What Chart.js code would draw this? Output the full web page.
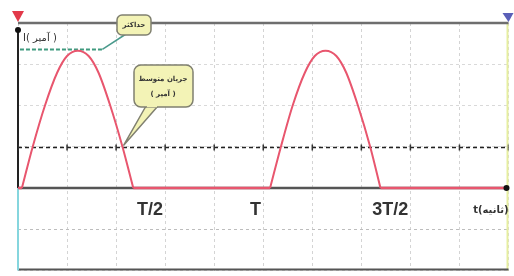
<!DOCTYPE html>
<html>
<head>
<meta charset="utf-8">
<script src="https://cdn.jsdelivr.net/npm/chart.js@4/dist/chart.umd.min.js"></script>
<style>
  html, body { margin: 0; padding: 0; background: #fff; overflow: hidden; }
  canvas { display: block; }
</style>
</head>
<body>
<canvas id="chart" width="514" height="276"></canvas>
<script>
// values in grid divisions (x: 10 divisions, y: -2..4)
const hump1X = [0.08, 0.30, 0.55, 0.80, 1.00, 1.22, 1.44, 1.64, 1.88, 2.13, 2.35];
const hump1Y = [0, 1.0, 2.0, 2.8, 3.2, 3.33, 3.2, 2.8, 2.0, 1.0, 0];
const hump2X = [5.14, 5.36, 5.60, 5.85, 6.05, 6.27, 6.49, 6.69, 6.93, 7.18, 7.39];
const hump2Y = [0, 1.0, 2.0, 2.8, 3.2, 3.33, 3.2, 2.8, 2.0, 1.0, 0];
const flatX = [0, 0.08, 1.2, 2.35, 5.14, 6.3, 7.39, 10];
const flatY = [0, 0, null, 0, 0, null, 0, 0];
const maxX = [0.04, 1.72];
const maxY = [3.36, 3.36];
const avgX = [0, 1, 2, 3, 4, 5, 6, 7, 8, 9, 10];
const avgY = [0.98, 0.98, 0.98, 0.98, 0.98, 0.98, 0.98, 0.98, 0.98, 0.98, 0.98];
const tickLabels = ['T/2', 'T', '3T/2'];
const tickPos = [2.69, 4.84, 7.59];
const yTitle = 'I( آمپر )';
const xTitle = 't(ثانیه)';
const maxNote = 'حداکثر';
const avgNote = ['جریان متوسط', '( آمپر )'];

function pts(xs, ys) {
  return xs.map((x, i) => ({ x: x, y: ys[i] }));
}

const RED = '#e8566e';

// axes frame, drawn under the curve
const framePlugin = {
  id: 'frame',
  beforeDatasetsDraw(chart) {
    const ctx = chart.ctx;
    const a = chart.chartArea;
    const y0 = chart.scales.y.getPixelForValue(0);
    ctx.save();
    ctx.lineCap = 'butt';
    // right yellow edge
    ctx.strokeStyle = '#e6eea0';
    ctx.lineWidth = 2;
    ctx.beginPath(); ctx.moveTo(a.right - 1, a.top); ctx.lineTo(a.right - 1, a.bottom); ctx.stroke();
    // top and bottom
    ctx.strokeStyle = '#6e6e6e';
    ctx.lineWidth = 2.5;
    ctx.beginPath(); ctx.moveTo(a.left, a.top); ctx.lineTo(a.right, a.top); ctx.stroke();
    ctx.strokeStyle = '#555';
    ctx.lineWidth = 2;
    ctx.beginPath(); ctx.moveTo(a.left, a.bottom - 1); ctx.lineTo(a.right, a.bottom - 1); ctx.stroke();
    // zero axis
    ctx.strokeStyle = '#555';
    ctx.lineWidth = 2.5;
    ctx.beginPath(); ctx.moveTo(a.left, y0); ctx.lineTo(a.right, y0); ctx.stroke();
    // left axis
    ctx.strokeStyle = '#222';
    ctx.lineWidth = 2;
    ctx.beginPath(); ctx.moveTo(a.left, a.top + 7); ctx.lineTo(a.left, y0); ctx.stroke();
    ctx.strokeStyle = '#86d6de';
    ctx.beginPath(); ctx.moveTo(a.left, y0); ctx.lineTo(a.left, a.bottom); ctx.stroke();
    ctx.restore();
  }
};

function roundBox(ctx, x, y, w, h, r) {
  ctx.beginPath();
  ctx.moveTo(x + r, y);
  ctx.arcTo(x + w, y, x + w, y + h, r);
  ctx.arcTo(x + w, y + h, x, y + h, r);
  ctx.arcTo(x, y + h, x, y, r);
  ctx.arcTo(x, y, x + w, y, r);
  ctx.closePath();
}

// labels, markers and callouts
const notesPlugin = {
  id: 'notes',
  afterDatasetsDraw(chart) {
    const ctx = chart.ctx;
    const a = chart.chartArea;
    const xs = chart.scales.x, ys = chart.scales.y;
    const y0 = ys.getPixelForValue(0);
    ctx.save();

    // cursor markers
    ctx.fillStyle = '#e23a4a';
    ctx.beginPath(); ctx.moveTo(a.left - 6, 11); ctx.lineTo(a.left + 6, 11); ctx.lineTo(a.left, 22); ctx.closePath(); ctx.fill();
    ctx.fillStyle = '#5a5fb8';
    ctx.beginPath(); ctx.moveTo(a.right - 6, 13); ctx.lineTo(a.right + 5, 13); ctx.lineTo(a.right, 22); ctx.closePath(); ctx.fill();

    // axis end dots
    ctx.fillStyle = '#111';
    ctx.beginPath(); ctx.arc(a.left, a.top + 7, 3, 0, Math.PI * 2); ctx.fill();
    ctx.beginPath(); ctx.arc(a.right - 2, y0, 3, 0, Math.PI * 2); ctx.fill();

    // tick labels
    ctx.fillStyle = '#333';
    ctx.font = 'bold 18px "Liberation Sans Narrow", "Liberation Sans", Arial, sans-serif';
    ctx.textAlign = 'center';
    ctx.textBaseline = 'middle';
    tickLabels.forEach((t, i) => ctx.fillText(t, xs.getPixelForValue(tickPos[i]), y0 + 22));

    // axis titles
    ctx.font = 'bold 10px "DejaVu Sans", sans-serif';
    ctx.textAlign = 'right';
    ctx.fillText(xTitle, a.right, y0 + 22);
    ctx.font = '10px "DejaVu Sans", sans-serif';
    ctx.textAlign = 'left';
    ctx.fillText(yTitle, a.left + 5, a.top + 15);

    // max callout
    const mx = xs.getPixelForValue(maxX[1]), my = ys.getPixelForValue(maxY[1]);
    ctx.strokeStyle = '#4a9a8c';
    ctx.lineWidth = 1.5;
    ctx.beginPath(); ctx.moveTo(mx, my); ctx.lineTo(126, 34); ctx.stroke();
    roundBox(ctx, 117, 15, 34, 20, 5);
    ctx.fillStyle = '#f3f3b6';
    ctx.fill();
    ctx.strokeStyle = '#808070';
    ctx.lineWidth = 1.5;
    ctx.stroke();
    ctx.fillStyle = '#333';
    ctx.font = 'bold 7px "DejaVu Sans", sans-serif';
    ctx.textAlign = 'center';
    ctx.fillText(maxNote, 134, 25);

    // average callout
    const tipX = xs.getPixelForValue(2.15), tipY = ys.getPixelForValue(avgY[0]) - 2;
    ctx.fillStyle = '#f3f3b6';
    ctx.strokeStyle = '#808070';
    ctx.lineWidth = 1.5;
    ctx.beginPath();
    ctx.moveTo(146, 106); ctx.lineTo(tipX, tipY); ctx.lineTo(158, 106);
    ctx.closePath(); ctx.fill(); ctx.stroke();
    roundBox(ctx, 134, 65, 59, 42, 7);
    ctx.fill(); ctx.stroke();
    ctx.beginPath(); ctx.moveTo(147, 106); ctx.lineTo(157, 106);
    ctx.strokeStyle = '#f3f3b6'; ctx.lineWidth = 2.5; ctx.stroke();
    ctx.fillStyle = '#333';
    ctx.font = 'bold 7px "DejaVu Sans", sans-serif';
    ctx.fillText(avgNote[0], 163, 79);
    ctx.fillText(avgNote[1], 163, 94);

    ctx.restore();
  }
};

new Chart(document.getElementById('chart'), {
  type: 'line',
  data: {
    datasets: [
      { data: pts(flatX, flatY), borderColor: RED, borderWidth: 2.5, pointRadius: 0, spanGaps: false },
      { data: pts(hump1X, hump1Y), borderColor: RED, borderWidth: 2, pointRadius: 0, cubicInterpolationMode: 'monotone' },
      { data: pts(hump2X, hump2Y), borderColor: RED, borderWidth: 2, pointRadius: 0, cubicInterpolationMode: 'monotone' },
      { data: pts(maxX, maxY), borderColor: '#3f9a7e', borderWidth: 2, borderDash: [4, 2], pointRadius: 0 },
      { data: pts(avgX, avgY), borderColor: '#222', borderWidth: 1.5, borderDash: [4, 3],
        pointStyle: 'line', rotation: 90, pointRadius: 3, pointBorderWidth: 1.5, pointBorderColor: '#333' }
    ]
  },
  options: {
    responsive: false,
    devicePixelRatio: 1,
    animation: false,
    layout: { padding: { left: 18, right: 5, top: 23, bottom: 3 } },
    plugins: { legend: { display: false }, tooltip: { enabled: false } },
    scales: {
      x: {
        type: 'linear', min: 0, max: 10,
        ticks: { display: false, stepSize: 1 },
        grid: { color: '#d4d4d4', lineWidth: 1, drawTicks: false },
        border: { display: false, dash: [3, 3] },
        afterFit: s => { s.height = 0; }
      },
      y: {
        min: -2, max: 4,
        ticks: { display: false, stepSize: 1 },
        grid: { color: ctx => ctx.tick.value === -1 ? '#bdbdbd' : '#d9d9d9', lineWidth: 1, drawTicks: false },
        border: { display: false, dash: [3, 3] },
        afterFit: s => { s.width = 0; }
      }
    }
  },
  plugins: [framePlugin, notesPlugin]
});
</script>
</body>
</html>
